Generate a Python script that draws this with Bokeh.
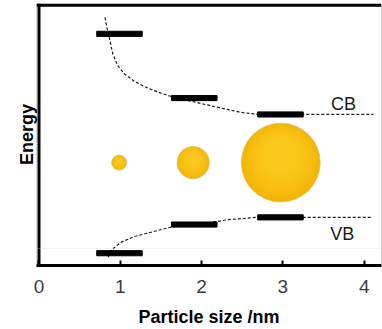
import numpy as np
from bokeh.plotting import figure
from bokeh.models import Range1d, FixedTicker, Span, Label, PolyAnnotation
from bokeh.embed import file_html
from bokeh.resources import INLINE

# ---------------- data ----------------
particle_size_nm = [0.99, 1.91, 2.97]          # centres of the energy-level bars
cb_energy = [9.05, 6.54, 5.90]                 # conduction-band levels
vb_energy = [0.48, 1.60, 1.88]                 # valence-band levels

sphere_size_nm = [0.986, 1.897, 2.974]         # nanoparticle sketches
sphere_radius_nm = [0.092, 0.199, 0.485]
sphere_energy = [4.02, 4.02, 4.02]

cb_curve_x = [0.812, 0.843, 0.865, 0.907, 0.968, 1.049, 1.172, 1.337, 1.501,
              1.648, 1.870, 2.153, 2.485, 2.706, 4.114]
cb_curve_y = [9.69, 9.18, 8.90, 8.27, 7.81, 7.49, 7.20, 6.93, 6.73,
              6.58, 6.42, 6.21, 5.98, 5.90, 5.90]
vb_curve_x = [0.852, 0.886, 1.009, 1.172, 1.378, 1.624, 2.189, 2.321, 2.681, 4.100]
vb_curve_y = [0.32, 0.59, 0.91, 1.13, 1.30, 1.50, 1.72, 1.79, 1.88, 1.88]

x_ticks = [0, 1, 2, 3, 4]
x_title = "Particle size /nm"
y_title = "Energy"
cb_text = "CB"
vb_text = "VB"

# ---------------- figure ----------------
FW, FH = 345, 262
X0 = -0.0307
X1 = X0 + FW / 81.3
Y0 = 0.0
Y1 = FH / 25.6

p = figure(frame_width=FW, frame_height=FH,
           x_range=Range1d(X0, X1), y_range=Range1d(Y0, Y1),
           toolbar_location=None, output_backend="svg",
           min_border_left=36, min_border_right=1, min_border_top=3,
           min_border_bottom=64)
p.background_fill_color = "white"
p.border_fill_color = "white"
p.grid.visible = False
p.outline_line_color = "#d6d6d6"
p.outline_line_width = 1

xa = p.xaxis[0]
xa.ticker = FixedTicker(ticks=x_ticks)
xa.axis_line_color = "black"
xa.axis_line_width = 3
xa.major_tick_in = 5
xa.major_tick_out = 0
xa.major_tick_line_width = 2
xa.major_tick_line_color = "black"
xa.minor_tick_line_color = None
xa.major_label_text_font = "Liberation Sans"
xa.major_label_text_font_size = "19px"
xa.major_label_text_color = "#3c3c3c"
xa.major_label_standoff = 14
xa.axis_label = x_title
xa.axis_label_text_font = "Liberation Sans"
xa.axis_label_text_font_style = "bold"
xa.axis_label_text_font_size = "18px"
xa.axis_label_text_color = "black"
xa.axis_label_standoff = 11

ya = p.yaxis[0]
ya.ticker = FixedTicker(ticks=[])
ya.bounds = (0.5, 9.38)
ya.axis_line_color = None
ya.major_tick_line_color = None
ya.minor_tick_line_color = None
ya.major_tick_in = 0
ya.major_tick_out = 0
ya.major_label_standoff = 0
ya.major_label_text_font_size = "0px"
ya.axis_label = y_title
ya.axis_label_text_font = "Liberation Sans"
ya.axis_label_text_font_style = "bold"
ya.axis_label_text_font_size = "18px"
ya.axis_label_text_color = "black"
ya.axis_label_standoff = 0

# frame borders (left and top)
p.add_layout(Span(location=0, dimension="height", line_color="black", line_width=3))
p.add_layout(Span(location=(265 - 4.7) / 25.6, dimension="width",
                  line_color="black", line_width=3))

# faint grey box around the x axis labels
p.add_layout(PolyAnnotation(xs=[-13, 345, 345, -13], ys=[17, 17, -32, -32],
                            xs_units="screen", ys_units="screen",
                            fill_alpha=0, line_color="#d9d9d9", line_width=1))

# dashed guide curves
p.line(cb_curve_x, cb_curve_y, line_color="#1a1a1a", line_width=1.2, line_dash="3 2")
p.line(vb_curve_x, vb_curve_y, line_color="#1a1a1a", line_width=1.2, line_dash="3 2")

# energy level bars
half = 0.28
left = [s - half for s in particle_size_nm]
right = [s + half for s in particle_size_nm]
p.hbar(y=cb_energy, left=left, right=right, height=0.2, color="black")
p.hbar(y=vb_energy, left=left, right=right, height=0.2, color="black")

# golden spheres with a simple layered shading
p.circle(x=sphere_size_nm, y=sphere_energy, radius=sphere_radius_nm,
         fill_color="#F4B300", line_color="#dcc070", line_width=1, line_alpha=0.8)
n_layers = 10
px_per_x = 81.3
for k in range(n_layers):
    f = 0.96 - 0.62 * k / (n_layers - 1)
    radii = [r * f for r in sphere_radius_nm]
    ys = [e + (1 - f) * 0.38 * r * px_per_x / 25.6
          for e, r in zip(sphere_energy, sphere_radius_nm)]
    p.circle(x=sphere_size_nm, y=ys, radius=radii,
             fill_color="#FFD22A", fill_alpha=0.15, line_color=None)

# band labels
p.add_layout(Label(x=3.745, y=6.29, text=cb_text, text_align="center",
                   text_baseline="middle", text_font="Liberation Sans",
                   text_font_size="18px", text_color="#1a1a1a"))
p.add_layout(Label(x=3.73, y=1.24, text=vb_text, text_align="center",
                   text_baseline="middle", text_font="Liberation Sans",
                   text_font_size="18px", text_color="#1a1a1a"))

open("out.html", "w").write(file_html(p, INLINE))
